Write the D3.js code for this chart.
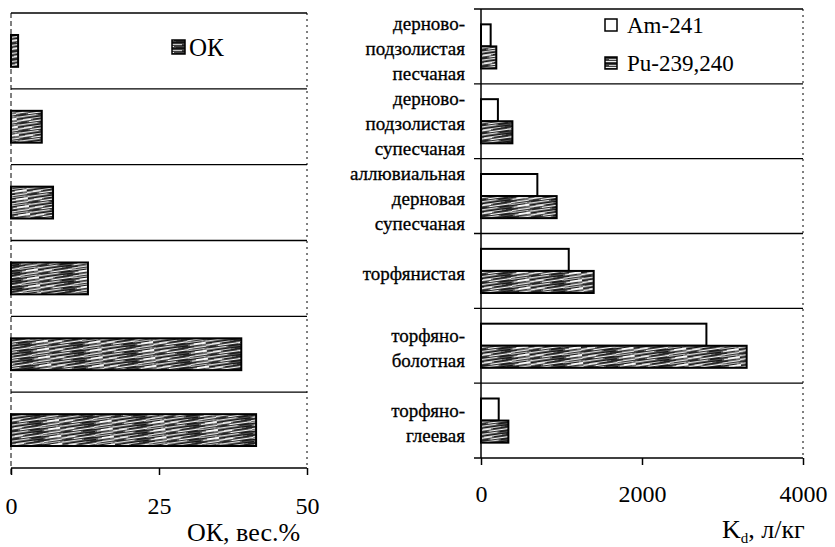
<!DOCTYPE html>
<html>
<head>
<meta charset="utf-8">
<script src="https://cdn.jsdelivr.net/npm/d3@7"></script>
<style>
  html, body { margin: 0; padding: 0; background: #fff; }
  svg, svg text { font-family: 'Liberation Serif', 'Times New Roman', 'DejaVu Serif', serif; }
</style>
</head>
<body>
<div id="chart"></div>
<script>
// soil types (top to bottom), line breaks as in the picture
var soils = [
  'дерново-\nподзолистая\nпесчаная',
  'дерново-\nподзолистая\nсупесчаная',
  'аллювиальная\nдерновая\nсупесчаная',
  'торфянистая',
  'торфяно-\nболотная',
  'торфяно-\nглеевая'
]

// left panel: organic carbon, wt.%
var okValues = [1.2, 5.2, 7.1, 13, 38.9, 41.4]
var okTicks = [0, 25, 50]

// right panel: Kd, l/kg
var seriesNames = ['Am-241', 'Pu-239,240']
var amValues = [120, 210, 700, 1090, 2800, 220]
var puValues = [190, 390, 940, 1400, 3300, 340]
var kdTicks = [0, 2000, 4000]

var width = 835
var height = 547

var svg = d3.select('#chart').append('svg')
  .attr('width', width)
  .attr('height', height)

/**
 * textures (scanned-looking streaky fills)
 */
var defs = svg.append('defs')
function makeTexture(id, base, w, h, streaks, rot) {
  var p = defs.append('pattern')
    .attr('id', id)
    .attr('patternUnits', 'userSpaceOnUse')
    .attr('width', w)
    .attr('height', h)
    .attr('patternTransform', `rotate(${rot})`)
  p.append('rect').attr('width', w).attr('height', h).attr('fill', base)
  streaks.forEach(s => {
    p.append('rect').attr('x', s[0]).attr('y', s[1]).attr('width', s[2]).attr('height', s[3]).attr('fill', s[4])
  })
}
makeTexture('tex', '#6e6e6e', 52, 8, [
  [0, 0, 34, 1, '#111'], [36, 0, 16, 1, '#eee'],
  [6, 1, 18, 1, '#ccc'], [28, 1, 20, 1, '#333'],
  [0, 2, 14, 1, '#f5f5f5'], [16, 2, 24, 1, '#1a1a1a'],
  [4, 3, 26, 1, '#444'], [34, 3, 18, 1, '#e8e8e8'],
  [0, 4, 10, 1, '#222'], [12, 4, 22, 1, '#fafafa'], [38, 4, 14, 1, '#333'],
  [2, 5, 30, 1, '#2a2a2a'], [34, 5, 16, 1, '#bbb'],
  [0, 6, 20, 1, '#ddd'], [22, 6, 26, 1, '#161616'],
  [8, 7, 28, 1, '#555'], [40, 7, 12, 1, '#fff']
], -8)
makeTexture('texDark', '#404040', 40, 6, [
  [0, 0, 26, 1, '#111'], [28, 1, 12, 1, '#ddd'], [4, 2, 18, 1, '#c8c8c8'],
  [22, 3, 18, 1, '#1a1a1a'], [0, 4, 14, 1, '#eee'], [16, 5, 20, 1, '#222']
], 0)

/**
 * left panel
 */
var xL = d3.scaleLinear().domain([0, 50]).range([11, 307])
var gridL = d3.scaleBand().domain(soils).range([13, 468])
var yL = d3.scaleBand().domain(soils).range([13, 468]).paddingInner(0.58).paddingOuter(0.29)

var left = svg.append('g')

// band lines
left.selectAll('line.grid')
  .data(soils.map(s => gridL(s)).concat([468]))
  .enter().append('line')
  .attr('class', 'grid')
  .attr('x1', xL(0)).attr('x2', xL(50))
  .attr('y1', d => d).attr('y2', d => d)
  .attr('stroke', '#000').attr('stroke-width', 1.4)

left.append('line')
  .attr('x1', xL(50)).attr('x2', xL(50)).attr('y1', 13).attr('y2', 468)
  .attr('stroke', '#000').attr('stroke-width', 1).attr('stroke-dasharray', '2,4')
left.append('line')
  .attr('x1', xL(0)).attr('x2', xL(0)).attr('y1', 13).attr('y2', 475)
  .attr('stroke', '#000').attr('stroke-width', 1).attr('stroke-dasharray', '5,3')

left.selectAll('rect.bar')
  .data(soils)
  .enter().append('rect')
  .attr('class', 'bar')
  .attr('x', xL(0))
  .attr('y', d => yL(d))
  .attr('width', (d, i) => xL(okValues[i]) - xL(0))
  .attr('height', yL.bandwidth())
  .attr('fill', 'url(#tex)')
  .attr('stroke', '#000').attr('stroke-width', 2)

var axL = left.append('g')
  .attr('transform', 'translate(0,468)')
  .call(d3.axisBottom(xL).tickValues(okTicks).tickFormat(d3.format('d'))
    .tickSize(7).tickSizeOuter(0).tickPadding(22))
axL.select('.domain').remove()
axL.selectAll('line').attr('stroke-width', 1.5)
axL.selectAll('text').attr('font-size', 24).attr('fill', '#000')
axL.attr('font-family', null)

left.append('text')
  .attr('x', 187).attr('y', 541)
  .attr('font-size', 26)
  .text('ОК, вес.%')

// legend
left.append('rect')
  .attr('x', 172).attr('y', 40).attr('width', 13).attr('height', 14)
  .attr('fill', 'url(#texDark)').attr('stroke', '#000').attr('stroke-width', 1.5)
left.append('text')
  .attr('x', 189).attr('y', 47).attr('dy', '0.35em')
  .attr('font-size', 25)
  .text('ОК')

/**
 * right panel
 */
var xR = d3.scaleLinear().domain([0, 4000]).range([481, 803])
var gridR = d3.scaleBand().domain(soils).range([9, 458])
var yR = d3.scaleBand().domain(soils).range([9, 458]).paddingInner(0.41).paddingOuter(0.205)
var ySub = d3.scaleBand().domain(seriesNames).range([0, yR.bandwidth()])

var right = svg.append('g')

right.selectAll('line.grid')
  .data(soils.map(s => gridR(s)).concat([458]))
  .enter().append('line')
  .attr('class', 'grid')
  .attr('x1', xR(0) - 7).attr('x2', xR(4000))
  .attr('y1', d => d).attr('y2', d => d)
  .attr('stroke', '#000').attr('stroke-width', 1.4)

right.append('line')
  .attr('x1', xR(4000)).attr('x2', xR(4000)).attr('y1', 9).attr('y2', 458)
  .attr('stroke', '#000').attr('stroke-width', 1).attr('stroke-dasharray', '2,4')
right.append('line')
  .attr('x1', xR(0)).attr('x2', xR(0)).attr('y1', 9).attr('y2', 458)
  .attr('stroke', '#000').attr('stroke-width', 1.5)

var rows = right.selectAll('g.row')
  .data(soils)
  .enter().append('g')
  .attr('class', 'row')
  .attr('transform', d => `translate(0,${yR(d)})`)

rows.append('rect')
  .attr('x', xR(0))
  .attr('y', ySub('Am-241'))
  .attr('width', (d, i) => xR(amValues[i]) - xR(0))
  .attr('height', ySub.bandwidth())
  .attr('fill', '#fff')
  .attr('stroke', '#000').attr('stroke-width', 2)

rows.append('rect')
  .attr('x', xR(0))
  .attr('y', ySub('Pu-239,240'))
  .attr('width', (d, i) => xR(puValues[i]) - xR(0))
  .attr('height', ySub.bandwidth())
  .attr('fill', 'url(#tex)')
  .attr('stroke', '#000').attr('stroke-width', 2)

// category labels
var lineGap = 25
right.selectAll('text.cat')
  .data(soils)
  .enter().append('text')
  .attr('class', 'cat')
  .attr('text-anchor', 'end')
  .attr('font-size', 19)
  .attr('stroke', '#000').attr('stroke-width', 0.3)
  .each(function (d) {
    var lines = d.split('\n')
    var cy = gridR(d) + gridR.bandwidth() / 2 + 2
    d3.select(this).selectAll('tspan')
      .data(lines)
      .enter().append('tspan')
      .attr('x', 465)
      .attr('y', (l, i) => cy + (i - (lines.length - 1) / 2) * lineGap)
      .attr('dy', '0.35em')
      .text(l => l)
  })

var axR = right.append('g')
  .attr('transform', 'translate(0,458)')
  .call(d3.axisBottom(xR).tickValues(kdTicks).tickFormat(d3.format('d'))
    .tickSize(7).tickSizeOuter(0).tickPadding(20))
axR.select('.domain').remove()
axR.selectAll('line').attr('stroke-width', 1.5)
axR.selectAll('text').attr('font-size', 24).attr('fill', '#000')
axR.attr('font-family', null)

var kdTitle = right.append('text')
  .attr('x', 722).attr('y', 538)
  .attr('font-size', 26)
kdTitle.append('tspan').text('K')
kdTitle.append('tspan').attr('font-size', 15).attr('dy', 5).text('d')
kdTitle.append('tspan').attr('dy', -5).text(', л/кг')

// legend
var legendY = d3.scalePoint().domain(seriesNames).range([25, 63])
var leg = right.selectAll('g.leg')
  .data(seriesNames)
  .enter().append('g')
  .attr('class', 'leg')
  .attr('transform', d => `translate(605,${legendY(d)})`)
leg.append('rect')
  .attr('x', 0).attr('y', -6).attr('width', 12).attr('height', 12)
  .attr('fill', (d, i) => i === 0 ? '#fff' : 'url(#texDark)')
  .attr('stroke', '#000').attr('stroke-width', 1.5)
leg.append('text')
  .attr('x', 22).attr('dy', '0.35em')
  .attr('font-size', 23)
  .text(d => d)
</script>
</body>
</html>
